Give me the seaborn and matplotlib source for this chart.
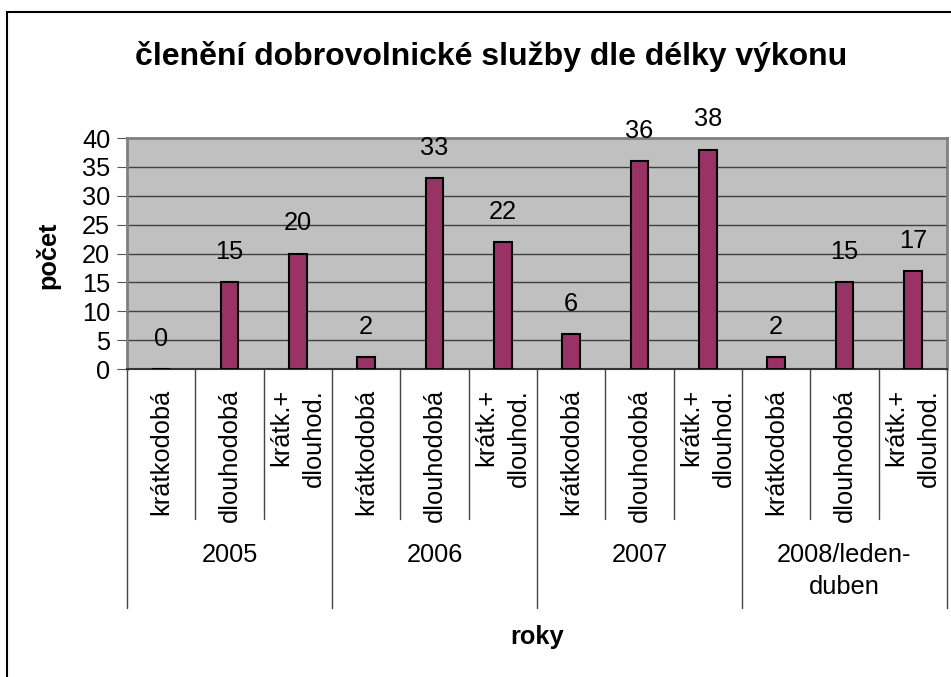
import numpy as np
import pandas as pd
import matplotlib
matplotlib.use('Agg')
import matplotlib.pyplot as plt
import matplotlib.patches as patches
import seaborn as sns

# data
roky = ['2005', '2006', '2007', '2008/leden-\nduben']
typy = ['krátkodobá', 'dlouhodobá', 'krátk.+\ndlouhod.']
pocet = [0, 15, 20,
         2, 33, 22,
         6, 36, 38,
         2, 15, 17]

df = pd.DataFrame({
    'rok': np.repeat(roky, len(typy)),
    'typ': typy * len(roky),
    'pocet': pocet,
})
df['klic'] = df['rok'] + '|' + df['typ']

sns.set_style('ticks')
plt.rcParams['font.family'] = ['Liberation Sans', 'DejaVu Sans']
plt.rcParams['text.color'] = 'black'

W, H = 951, 677
fs = 18.3
fig = plt.figure(figsize=(W / 100, H / 100), dpi=100)
ax_l, ax_r, ax_t, ax_b = 127, 947, 138, 369
ax = fig.add_axes([ax_l / W, 1 - ax_b / H, (ax_r - ax_l) / W, (ax_b - ax_t) / H])
ax_h = ax_b - ax_t

sns.barplot(data=df, x='klic', y='pocet', color='#993366', edgecolor='black',
            linewidth=1.5, width=0.26, saturation=1, ax=ax, zorder=3)
ax.bar_label(ax.containers[0], padding=13, fontsize=fs, color='black')

ax.set_facecolor('#C0C0C0')
ax.set_ylim(0, 40)
ax.set_xlim(-0.5, len(df) - 0.5)
ax.set_yticks(range(0, 41, 5))
ax.yaxis.grid(True, color='#404040', lw=1, zorder=0)
ax.set_axisbelow(True)
ax.tick_params(axis='y', length=7, color='#555555', labelsize=fs, pad=5,
               labelcolor='black')
ax.tick_params(axis='x', length=0, labelbottom=False)
ax.set_xlabel('')
ax.set_ylabel('')
for s in ['top', 'right', 'left']:
    ax.spines[s].set_color('#808080')
    ax.spines[s].set_linewidth(2)
ax.spines['bottom'].set_color('#333333')
ax.spines['bottom'].set_linewidth(1.5)

# multi-level category axis
tr = ax.get_xaxis_transform()
n = len(typy)
for i in range(len(df) + 1):
    x = i - 0.5
    low = -239 / ax_h if i % n == 0 else -150 / ax_h
    ax.plot([x, x], [0, low], transform=tr, color='#444444', lw=1, clip_on=False)

for i, row in df.iterrows():
    ax.text(i, -20 / ax_h, row['typ'], transform=tr, rotation=90, ha='center',
            va='top', multialignment='right', fontsize=fs, linespacing=1.45)

for g, rok in enumerate(roky):
    ax.text(g * n + (n - 1) / 2, -(543 - ax_b) / ax_h, rok, transform=tr,
            ha='center', va='top', multialignment='center', fontsize=fs,
            linespacing=1.4)

fig.text(491 / W, 1 - 57 / H, 'členění dobrovolnické služby dle délky výkonu',
         ha='center', va='center', fontsize=23, fontweight='bold')
fig.text(48 / W, 1 - 255 / H, 'počet', rotation=90, ha='center', va='center',
         fontsize=fs, fontweight='bold')
fig.text(537 / W, 1 - 637 / H, 'roky', ha='center', va='center',
         fontsize=fs, fontweight='bold')

# chart area frame
fig.patches.append(patches.Rectangle((7 / W, -0.1), 1.2, (H - 12) / H + 0.1,
                                     transform=fig.transFigure, fill=False,
                                     edgecolor='black', lw=1.5, clip_on=False))

fig.savefig('out.png', dpi=100)
